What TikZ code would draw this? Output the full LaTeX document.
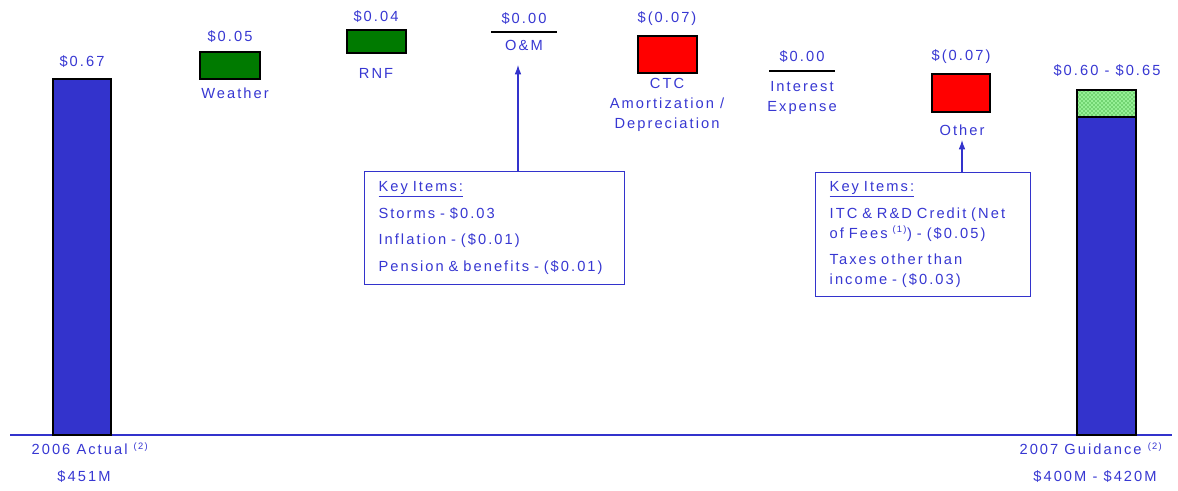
\documentclass[tikz,border=0pt]{standalone}
\usepackage{fontspec}
\setmainfont[LetterSpace=14]{Liberation Sans}
\usepackage{tikz}
\usetikzlibrary{arrows.meta,positioning,patterns}
\definecolor{barblue}{RGB}{51,51,204}
\definecolor{textblue}{RGB}{55,55,210}
\definecolor{posgreen}{RGB}{0,122,0}
\definecolor{negred}{RGB}{255,0,0}
\definecolor{lightgreen}{RGB}{150,240,150}

\begin{document}
\begin{tikzpicture}[x=0.75pt, y=-0.75pt,
    every node/.style={text=textblue, font=\fontsize{11}{15}\selectfont, inner sep=1pt},
    bar/.style={draw=black, thick},
    keybox/.style={draw=barblue, thick, fill=white, anchor=north west, align=left, inner xsep=10.5pt, inner ysep=0pt},
    keyarrow/.style={draw=barblue, thick, -{Latex[length=7pt,width=5pt]}},
    zeroline/.style={draw=black, thick}]
        \useasboundingbox (0,0) rectangle (1178,491);

        % axis
        \draw[barblue, thick] (10,435) -- (1172,435);

        % bars
        \draw[bar, fill=barblue] (53,79) rectangle (111,435);
        \draw[bar, fill=posgreen] (200,52) rectangle (260,79);
        \draw[bar, fill=posgreen] (347,30) rectangle (406,53);
        \draw[zeroline] (491,32) -- (557,32);
        \draw[bar, fill=negred] (638,36) rectangle (697,73);
        \draw[zeroline] (769,71) -- (835,71);
        \draw[bar, fill=negred] (932,74) rectangle (990,112);
        \draw[bar, fill=barblue] (1077,117) rectangle (1136,435);
        \fill[lightgreen] (1077,90) rectangle (1136,117);
        \fill[pattern=crosshatch dots, pattern color=posgreen] (1077,90) rectangle (1136,117);
        \draw[bar] (1077,90) rectangle (1136,117);

        % values
        \node (v2006) at (82,62) {\$0.67};
        \node (vweather) at (230,37) {\$0.05};
        \node (vrnf) at (376,17) {\$0.04};
        \node (vom) at (524,19) {\$0.00};
        \node (vctc) at (667,19) {\$(0.07)};
        \node (vint) at (802,57) {\$0.00};
        \node (voth) at (961,57) {\$(0.07)};
        \node (v2007) at (1107,71) {\$0.60 - \$0.65};

        % categories
        \node (weather) at (235,93) {Weather};
        \node (rnf) at (376,73) {RNF};
        \node (om) at (524,45) {O\&M};
        \node[align=center] (ctc) at (667,105) {CTC\\Amortization /\\Depreciation};
        \node[align=center] (interest) at (802,98) {Interest\\Expense};
        \node (other) at (962,130) {Other};

        \node (act) at (90,449) {2006 Actual \textsuperscript{\scriptsize(2)}};
        \node (actamt) at (84,477) {\$451M};
        \node (guid) at (1091,449) {2007 Guidance \textsuperscript{\scriptsize(2)}};
        \node (guidamt) at (1095,477) {\$400M - \$420M};

        % key items
        \node[keybox, text width=174pt, minimum width=195pt, minimum height=84.75pt] (keyom) at (364,171) {\underline{Key Items:}\\[5pt]Storms - \$0.03\\[5pt]Inflation - (\$0.01)\\[5pt]Pension \& benefits - (\$0.01)};
        \node[keybox, text width=140pt, minimum width=161.25pt, minimum height=93pt] (keyoth) at (815,172) {\underline{Key Items:}\\[5pt]ITC \& R\&D Credit (Net\\of Fees \textsuperscript{\scriptsize(1)}) - (\$0.05)\\[5pt]Taxes other than\\income - (\$0.03)};

        \coordinate (omtip) at (518,65);
        \coordinate (othtip) at (962,140);
        \draw[keyarrow] (keyom.north -| omtip) -- (omtip);
        \draw[keyarrow] (keyoth.north -| othtip) -- (othtip);
\end{tikzpicture}
\end{document}
